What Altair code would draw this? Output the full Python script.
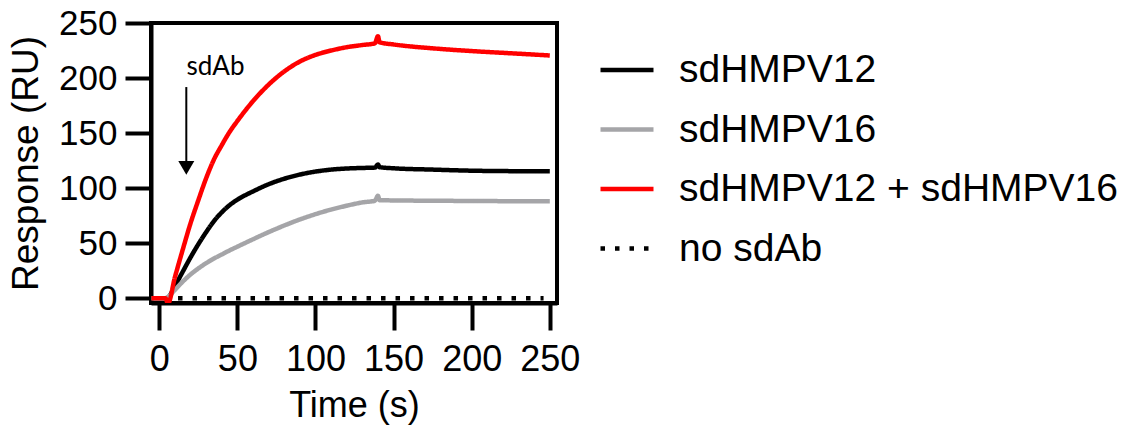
import altair as alt
import pandas as pd

# ---- data ----
time_s = [-5, 0, 4, 5.5, 10, 15, 20, 25, 30, 35, 40, 45, 50, 60, 70, 80, 90, 100,
          110, 120, 130, 138, 140, 141, 150, 175, 200, 225, 250]
sdhmpv12 = [0, 0, 0, 0.5, 11, 24, 37, 49, 60, 70, 78, 84.5, 89.5, 97, 103.5, 108.5,
            112.3, 115, 116.8, 117.8, 118.3, 118.6, 121.5, 119, 118, 116.8, 115.8,
            115.4, 115.2]
sdhmpv16 = [0, 0, 0, 1, 7.5, 15, 21.5, 27, 31.8, 36, 39.7, 43.4, 46.8, 53.5, 60, 66,
            71.5, 76.3, 80.5, 84, 87, 88.5, 93, 89, 88.8, 88.5, 88.3, 88.1, 88]
combo = [0, 0, 0, -5, 19, 44, 68, 89, 109, 126, 139, 151, 161, 179, 194, 206, 215,
         221, 225, 228, 230, 231.5, 238, 232.5, 230.5, 227, 224.5, 222.5, 220.5]
nosdab_time = [12, 246]
nosdab = [0, 0]

series_names = ["sdHMPV12", "sdHMPV16", "sdHMPV12 + sdHMPV16", "no sdAb"]
series_colors = ["#000000", "#a5a5a8", "#ff0000", "#000000"]
series_dash = [[1, 0], [1, 0], [1, 0], [4.5, 10]]
tick_values = [0, 50, 100, 150, 200, 250]

rows = []
for name, ts, vs in [(series_names[0], time_s, sdhmpv12),
                     (series_names[1], time_s, sdhmpv16),
                     (series_names[2], time_s, combo),
                     (series_names[3], nosdab_time, nosdab)]:
    for t, v in zip(ts, vs):
        rows.append({"time": t, "response": v, "series": name})
df = pd.DataFrame(rows)

x_scale = alt.Scale(domain=[-5.3, 254.6], nice=False, zero=False)
y_scale = alt.Scale(domain=[-4.4, 250], nice=False, zero=False)

legend_kw = dict(title=None, orient="none", legendX=447, legendY=18,
                 symbolType="stroke", symbolSize=2809, symbolStrokeWidth=4.5,
                 labelFont="Liberation Sans", labelFontSize=39, labelColor="black",
                 labelOffset=23, rowPadding=10.5, padding=0, labelLimit=0)

lines = alt.Chart(df).mark_line(strokeWidth=4.5, clip=True, interpolate="monotone").encode(
    x=alt.X("time:Q", scale=x_scale,
            axis=alt.Axis(values=tick_values, title="Time (s)", tickSize=27,
                          labelPadding=12, titleY=85, labelFlush=False,
                          labelFontSize=36)),
    y=alt.Y("response:Q", scale=y_scale,
            axis=alt.Axis(values=tick_values, title="Response (RU)", tickSize=26,
                          labelPadding=8, titleX=-106, labelFlush=False,
                          titleFontSize=37)),
    color=alt.Color("series:N", sort=series_names,
                    scale=alt.Scale(domain=series_names, range=series_colors),
                    legend=alt.Legend(**legend_kw), title=None),
    strokeDash=alt.StrokeDash("series:N", sort=series_names,
                              scale=alt.Scale(domain=series_names, range=series_dash),
                              legend=alt.Legend(**legend_kw), title=None),
)

ann_label = ["sdAb"]
ann_df = pd.DataFrame({"time": [36], "response": [202.5], "label": ann_label})
ann_text = alt.Chart(ann_df).mark_text(font="Lato", fontSize=26, align="center",
                                       baseline="alphabetic", color="black").encode(
    x=alt.X("time:Q", scale=x_scale), y=alt.Y("response:Q", scale=y_scale), text="label:N")

shaft_df = pd.DataFrame({"time": [17.3], "y1": [191.8], "y2": [122]})
shaft = alt.Chart(shaft_df).mark_rule(strokeWidth=2, color="black").encode(
    x=alt.X("time:Q", scale=x_scale), y=alt.Y("y1:Q", scale=y_scale), y2="y2:Q")

head_df = pd.DataFrame({"time": [17.3], "response": [118.4]})
head = alt.Chart(head_df).mark_point(shape="triangle-down", size=256, filled=True,
                                     color="black", opacity=1).encode(
    x=alt.X("time:Q", scale=x_scale), y=alt.Y("response:Q", scale=y_scale))

chart = alt.layer(lines, shaft, head, ann_text).properties(
    width=406, height=280,
    padding={"left": 143, "top": 15, "right": 577, "bottom": 125},
    autosize=alt.AutoSizeParams(type="none"),
).configure_view(stroke="black", strokeWidth=4).configure_axis(
    domainColor="black", domainWidth=4, tickColor="black", tickWidth=4,
    labelFont="Liberation Sans", labelFontSize=35, labelColor="black",
    titleFont="Liberation Sans", titleFontSize=36, titleColor="black",
    titleFontWeight="normal", grid=False,
)

chart.save("out.html", embed_options={"renderer": "svg", "actions": False})
